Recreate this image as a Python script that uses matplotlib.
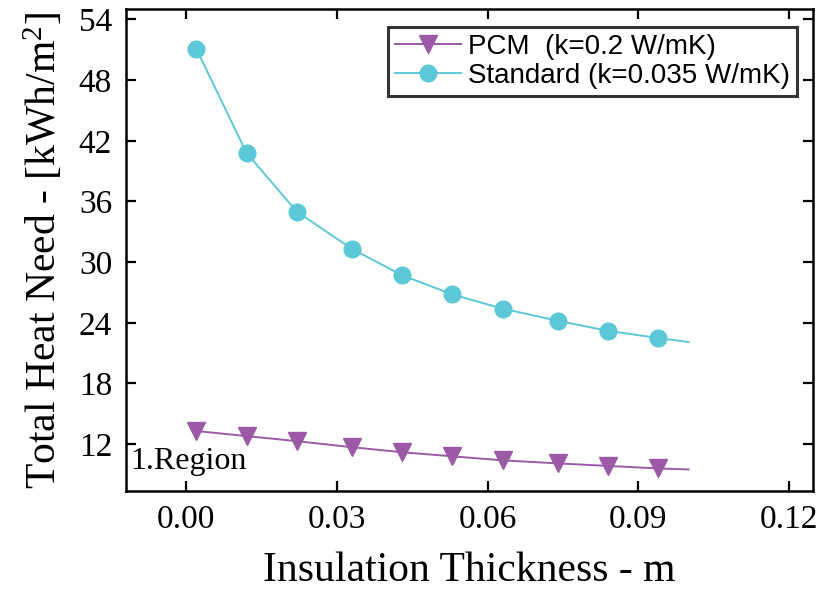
import numpy as np
import matplotlib
matplotlib.use("Agg")
from matplotlib import pyplot as plt

# insulation thickness [m] at the marker positions
thickness = [0.002, 0.012, 0.022, 0.033, 0.043, 0.053, 0.063, 0.074, 0.084, 0.094]
# end point of the drawn curves
thickness_end = 0.100

pcm = [13.3, 12.8, 12.3, 11.7, 11.2, 10.8, 10.4, 10.1, 9.85, 9.6]
pcm_end = 9.5
standard = [51.1, 40.8, 35.0, 31.3, 28.7, 26.8, 25.4, 24.2, 23.2, 22.5]
standard_end = 22.1

xticks = [0.00, 0.03, 0.06, 0.09, 0.12]
yticks = [12, 18, 24, 30, 36, 42, 48, 54]

plt.rcParams['font.family'] = 'Liberation Serif'
plt.rcParams['mathtext.fontset'] = 'custom'
plt.rcParams['mathtext.rm'] = 'Liberation Serif'
plt.rcParams['mathtext.it'] = 'Liberation Serif:italic'

fig = plt.figure(figsize=(8.23, 5.89), dpi=100)
ax = fig.add_axes([0.1531, 0.1669, 0.8348, 0.8173])

purple = '#9b59a6'
cyan = '#5cc7d7'

ax.plot(thickness + [thickness_end], pcm + [pcm_end], color=purple, lw=1.4,
        marker='v', markersize=13, markevery=list(range(len(thickness))),
        label='PCM  (k=0.2 W/mK)')
ax.plot(thickness + [thickness_end], standard + [standard_end], color=cyan, lw=1.4,
        marker='o', markersize=12, markevery=list(range(len(thickness))),
        label='Standard (k=0.035 W/mK)')

ax.set_xlim(-0.012, 0.1248)
ax.set_ylim(7.4, 55)
ax.set_xticks(xticks)
ax.set_xticklabels([f'{v:.2f}' for v in xticks])
ax.set_yticks(yticks)

ax.tick_params(direction='in', length=7, width=1.6, labelsize=24,
               top=True, right=True, pad=10)
for s in ax.spines.values():
    s.set_linewidth(1.8)

ax.set_xlabel('Insulation Thickness - m', fontsize=30, labelpad=12)
ax.set_ylabel(r'Total Heat Need - [kWh/m$^2$]', fontsize=30, labelpad=10)

ax.text(0.006, 0.045, '1.Region', transform=ax.transAxes, fontsize=23,
        va='baseline', ha='left')

leg = ax.legend(loc='upper right', bbox_to_anchor=(0.977, 0.963),
                prop={'family': 'Liberation Sans', 'size': 20},
                frameon=True, fancybox=False, edgecolor='black',
                handlelength=2.4, handletextpad=0.25, borderpad=0.25,
                labelspacing=0.1, borderaxespad=0)
leg.get_frame().set_linewidth(2.2)

fig.savefig('out.png', dpi=100)
